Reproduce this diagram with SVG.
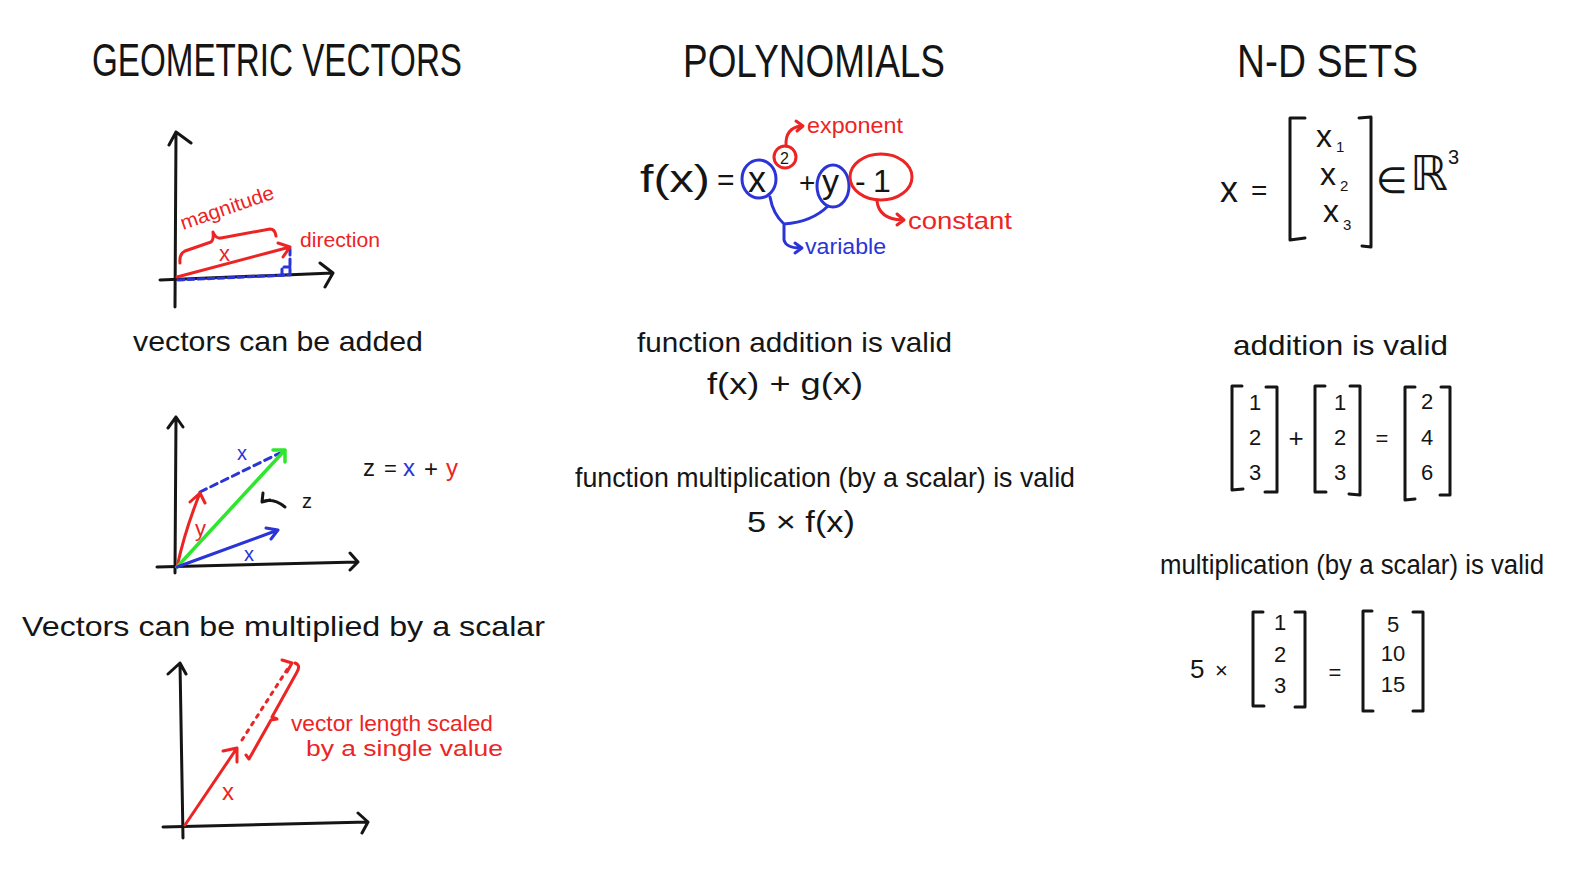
<svg xmlns="http://www.w3.org/2000/svg" width="1574" height="886" viewBox="0 0 1574 886">
<style>
.t{font-family:"Liberation Sans",Arial,sans-serif;fill:#151515}
.m{font-family:"DejaVu Sans","Liberation Sans",sans-serif;fill:#151515}
.r{fill:#ec2424}
.b{fill:#2b34d6}
.ln{fill:none;stroke-linecap:round;stroke-linejoin:round}
.k{stroke:#151515;stroke-width:3}
.rs{stroke:#ec2424;stroke-width:3}
.bs{stroke:#2b34d6;stroke-width:3}
.gs{stroke:#2ee62e;stroke-width:3.5}
</style>
<rect width="1574" height="886" fill="#ffffff"/>

<!-- Titles -->
<g id="titles">
<text class="t" x="92" y="76" font-size="46" textLength="370" lengthAdjust="spacingAndGlyphs">GEOMETRIC VECTORS</text>
<text class="t" x="683" y="77" font-size="46" textLength="262" lengthAdjust="spacingAndGlyphs">POLYNOMIALS</text>
<text class="t" x="1237" y="77" font-size="46" textLength="181" lengthAdjust="spacingAndGlyphs">N-D SETS</text>
</g>

<!-- Geometric vectors: graph 1 -->
<g id="graph-magnitude">
<path class="ln k" d="M175,307 L176,132 M169,145 L176,132 L191,143"/>
<path class="ln k" d="M160,280 L333,273 M320,263 L333,273 L325,287"/>
<path class="ln bs" stroke-dasharray="6,4" d="M178,280 L288,275 M290,249 L290,275 M282,275 L282,267 L290,267"/>
<path class="ln rs" d="M177,277 L290,247 M278,243 L290,247 L283,257"/>
<path class="ln rs" stroke-width="2.5" d="M180,263 Q179,254 185,251 L211,242 Q214,240 213,232 Q216,239 221,238 L270,229 Q275,229 276,236"/>
<text class="t r" font-size="20" transform="translate(183,230) rotate(-19)" textLength="98" lengthAdjust="spacingAndGlyphs">magnitude</text>
<text class="t r" x="219" y="261" font-size="22">x</text>
<text class="t r" x="300" y="247" font-size="20" textLength="80" lengthAdjust="spacingAndGlyphs">direction</text>
</g>

<g id="label-added">
<text class="t" x="133" y="351" font-size="28" textLength="290" lengthAdjust="spacingAndGlyphs">vectors can be added</text>
</g>

<!-- Graph 2: addition -->
<g id="graph-addition">
<path class="ln k" d="M175,573 L176,417 M168,428 L176,417 L183,427"/>
<path class="ln k" d="M157,567 L358,562 M350,553 L358,562 L350,570"/>
<path class="ln bs" stroke-width="2.5" stroke-dasharray="7,5" d="M200,492 L280,453"/>
<path class="ln rs" stroke-width="2.5" d="M177,567 Q185,530 200,493 M190,502 L200,493 L205,503"/>
<path class="ln gs" d="M177,567 L285,450 M273,450 L285,450 L285,462"/>
<path class="ln bs" stroke-width="2.5" d="M177,567 L278,530 M266,528 L278,530 L271,539"/>
<text class="t b" x="237" y="460" font-size="20">x</text>
<text class="t r" x="195" y="536" font-size="22">y</text>
<text class="t b" x="244" y="561" font-size="20">x</text>
<path class="ln k" stroke-width="2.5" d="M263,493 L262,502 L270,500 M262,502 Q272,497 285,507"/>
<text class="t" x="302" y="508" font-size="20">z</text>
<text class="t" x="363" y="476" font-size="24">z</text>
<text class="t" x="384" y="476" font-size="22">=</text>
<text class="t b" x="403" y="476" font-size="24">x</text>
<text class="t" x="424" y="477" font-size="24">+</text>
<text class="t r" x="446" y="476" font-size="24">y</text>
</g>

<g id="label-scalar">
<text class="t" x="22" y="636" font-size="28" textLength="523" lengthAdjust="spacingAndGlyphs">Vectors can be multiplied by a scalar</text>
</g>

<!-- Graph 3: scaling -->
<g id="graph-scaling">
<path class="ln k" d="M183,838 L180,663 M168,674 L180,663 L186,674"/>
<path class="ln k" d="M163,827 L368,822 M358,813 L368,822 L362,833"/>
<path class="ln rs" d="M185,825 L237,748 M223,751 L237,748 L237,762"/>
<path class="ln rs" stroke-dasharray="3,6" d="M242,740 L290,665"/>
<path class="ln rs" stroke-width="2.5" d="M282,660 L292,663 L287,672"/>
<path class="ln rs" stroke-width="2.5" d="M246,755 L249,759 L271,720 L277,719 L272,717 L297,672 Q301,665 295,663"/>
<text class="t r" x="291" y="731" font-size="22" textLength="202" lengthAdjust="spacingAndGlyphs">vector length scaled</text>
<text class="t r" x="306" y="756" font-size="22" textLength="197" lengthAdjust="spacingAndGlyphs">by a single value</text>
<text class="t r" x="222" y="800" font-size="24">x</text>
</g>

<!-- Polynomials -->
<g id="poly-formula">
<text class="t" x="640" y="192" font-size="38" textLength="70" lengthAdjust="spacingAndGlyphs">f(x)</text>
<text class="t" x="717" y="190" font-size="30">=</text>
<text class="t" x="748" y="192" font-size="36">x</text>
<ellipse class="ln bs" cx="759" cy="179" rx="17" ry="19"/>
<text class="t" x="780" y="164" font-size="16">2</text>
<circle class="ln rs" cx="785" cy="157" r="11"/>
<text class="t" x="799" y="192" font-size="28">+</text>
<text class="t" x="822" y="193" font-size="34">y</text>
<ellipse class="ln bs" cx="833" cy="186" rx="16" ry="21"/>
<text class="t" x="855" y="192" font-size="32">-</text>
<text class="t" x="873" y="192" font-size="32">1</text>
<ellipse class="ln rs" cx="881" cy="177" rx="31" ry="23"/>
</g>
<g id="poly-exponent">
<path class="ln rs" stroke-width="2.5" d="M786,146 Q785,128 801,126 M796,121 L803,126 L797,131"/>
<text class="t r" x="807" y="133" font-size="22" textLength="96" lengthAdjust="spacingAndGlyphs">exponent</text>
</g>
<g id="poly-constant">
<path class="ln rs" stroke-width="2.5" d="M877,201 Q879,219 902,220 M897,214 L904,220 L897,225"/>
<text class="t r" x="908" y="229" font-size="24" textLength="104" lengthAdjust="spacingAndGlyphs">constant</text>
</g>
<g id="poly-variable">
<path class="ln bs" stroke-width="2.5" d="M770,197 Q773,214 784,224 Q812,222 828,206 M784,224 L784,240 Q786,248 800,248 M795,243 L802,248 L795,253"/>
<text class="t b" x="805" y="254" font-size="22" textLength="81" lengthAdjust="spacingAndGlyphs">variable</text>
</g>

<g id="poly-addition">
<text class="t" x="637" y="352" font-size="28" textLength="315" lengthAdjust="spacingAndGlyphs">function addition is valid</text>
<text class="t" x="707" y="394" font-size="30" textLength="156" lengthAdjust="spacingAndGlyphs">f(x) + g(x)</text>
</g>
<g id="poly-multiplication">
<text class="t" x="575" y="487" font-size="28" textLength="500" lengthAdjust="spacingAndGlyphs">function multiplication (by a scalar) is valid</text>
<text class="t" x="747" y="532" font-size="30" textLength="108" lengthAdjust="spacingAndGlyphs">5 × f(x)</text>
</g>

<!-- N-D sets -->
<g id="nd-vector">
<text class="t" x="1220" y="202" font-size="36">x</text>
<text class="t" x="1251" y="200" font-size="28">=</text>
<path class="ln k" stroke-width="2.5" d="M1305,118 L1290,118 L1290,240 L1305,238"/>
<path class="ln k" stroke-width="2.5" d="M1359,118 L1371,117 L1371,247 L1362,246"/>
<text class="t" x="1316" y="147" font-size="32">x</text>
<text class="t" x="1336" y="152" font-size="15">1</text>
<text class="t" x="1320" y="185" font-size="32">x</text>
<text class="t" x="1340" y="191" font-size="15">2</text>
<text class="t" x="1323" y="222" font-size="32">x</text>
<text class="t" x="1343" y="230" font-size="15">3</text>
<text class="m" x="1376" y="193" font-size="36">∈</text>
<text class="m" x="1410" y="190" font-size="48">ℝ</text>
<text class="t" x="1448" y="164" font-size="20">3</text>
</g>

<g id="nd-addition">
<text class="t" x="1233" y="355" font-size="28" textLength="215" lengthAdjust="spacingAndGlyphs">addition is valid</text>
<path class="ln k" stroke-width="2.5" d="M1242,386 L1232,386 L1232,490 L1243,489"/>
<path class="ln k" stroke-width="2.5" d="M1266,387 L1277,387 L1277,492 L1265,492"/>
<text class="t" x="1255" y="410" font-size="22" text-anchor="middle">1</text>
<text class="t" x="1255" y="445" font-size="22" text-anchor="middle">2</text>
<text class="t" x="1255" y="480" font-size="22" text-anchor="middle">3</text>
<text class="t" x="1296" y="447" font-size="26" text-anchor="middle">+</text>
<path class="ln k" stroke-width="2.5" d="M1325,386 L1315,386 L1315,492 L1326,492"/>
<path class="ln k" stroke-width="2.5" d="M1350,386 L1360,386 L1360,495 L1349,494"/>
<text class="t" x="1340" y="410" font-size="22" text-anchor="middle">1</text>
<text class="t" x="1340" y="445" font-size="22" text-anchor="middle">2</text>
<text class="t" x="1340" y="480" font-size="22" text-anchor="middle">3</text>
<text class="t" x="1382" y="446" font-size="22" text-anchor="middle">=</text>
<path class="ln k" stroke-width="2.5" d="M1415,387 L1405,387 L1405,500 L1415,499"/>
<path class="ln k" stroke-width="2.5" d="M1441,387 L1450,387 L1450,495 L1440,495"/>
<text class="t" x="1427" y="409" font-size="22" text-anchor="middle">2</text>
<text class="t" x="1427" y="445" font-size="22" text-anchor="middle">4</text>
<text class="t" x="1427" y="480" font-size="22" text-anchor="middle">6</text>
</g>

<g id="nd-multiplication">
<text class="t" x="1160" y="574" font-size="27" textLength="384" lengthAdjust="spacingAndGlyphs">multiplication (by a scalar) is valid</text>
<text class="t" x="1190" y="678" font-size="26">5</text>
<text class="t" x="1215" y="678" font-size="22">×</text>
<path class="ln k" stroke-width="2.5" d="M1263,612 L1253,612 L1253,706 L1264,706"/>
<path class="ln k" stroke-width="2.5" d="M1295,612 L1305,612 L1305,707 L1295,707"/>
<text class="t" x="1280" y="630" font-size="22" text-anchor="middle">1</text>
<text class="t" x="1280" y="662" font-size="22" text-anchor="middle">2</text>
<text class="t" x="1280" y="693" font-size="22" text-anchor="middle">3</text>
<text class="t" x="1335" y="680" font-size="22" text-anchor="middle">=</text>
<path class="ln k" stroke-width="2.5" d="M1372,611 L1363,611 L1363,711 L1373,711"/>
<path class="ln k" stroke-width="2.5" d="M1413,612 L1423,612 L1423,711 L1413,711"/>
<text class="t" x="1393" y="632" font-size="22" text-anchor="middle">5</text>
<text class="t" x="1393" y="661" font-size="22" text-anchor="middle">10</text>
<text class="t" x="1393" y="692" font-size="22" text-anchor="middle">15</text>
</g>
</svg>
